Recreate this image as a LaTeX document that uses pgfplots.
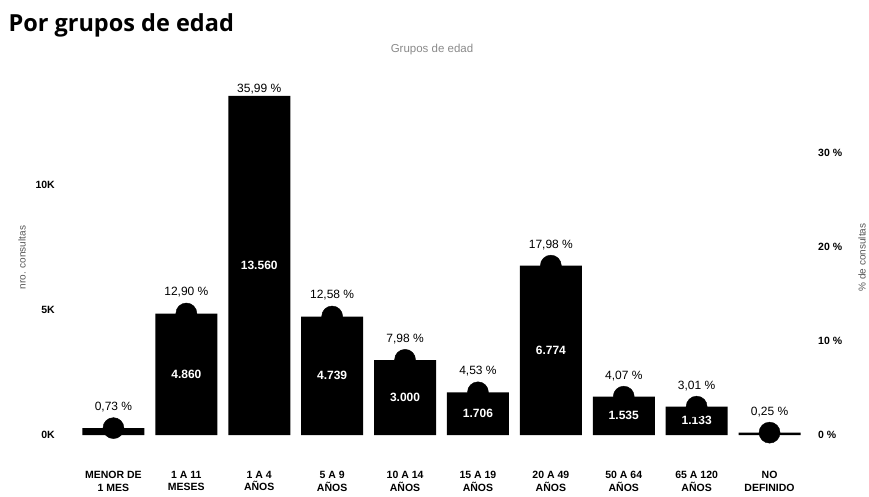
\documentclass[border=0pt]{standalone}
\usepackage{pgfplots}
\pgfplotsset{compat=1.18}
\usepackage{pgfplotstable}
\usepackage{fontspec}
\setmainfont{Liberation Sans}
\newfontfamily\headfont{Open Sans}
\pgfkeys{/pgf/number format/assume math mode=true}

% consultations per age group (x = category index)
\pgfplotstableread{
x  n
0  275
1  4860
2  13560
3  4739
4  3000
5  1706
6  6774
7  1535
8  1133
9  94
}\counts

% groups whose count is printed inside the bar
\pgfplotstableread{
x  n
1  4860
2  13560
3  4739
4  3000
5  1706
6  6774
7  1535
8  1133
}\countlabels

% share of consultations (%) drawn as markers, with the lift of each label in pt
\pgfplotstableread{
x  p      lift
0  0.73   21
1  12.90  21
3  12.58  21
4  7.98   21
5  4.53   21
6  17.98  21
7  4.07   21
8  3.01   21
9  0.25   21
}\shares

% the largest share: its marker is hidden at the top of the plot, only its label shows
\pgfplotstableread{
x  p      lift
2  35.99  7
}\topshare

\definecolor{axislabel}{HTML}{555555}
\definecolor{charttitle}{HTML}{8A8A8A}

\begin{document}
\begin{tikzpicture}
\useasboundingbox (0,0) rectangle (869pt,496pt);

\node[anchor=base west, font=\headfont\bfseries\fontsize{23.5}{26}\selectfont]
  at (5pt,464pt) {Por grupos de edad};
\node[font=\fontsize{11.5}{13}\selectfont, text=charttitle] at (432pt,446pt) {Grupos de edad};

\pgfplotsset{
  frame/.style={
    at={(77pt,61pt)}, anchor=south west,
    scale only axis, width=729pt, height=355pt,
    xmin=-0.5, xmax=9.5, ymin=0,
    axis line style={draw=none},
    major tick length=0pt,
    scaled y ticks=false,
    clip=false,
  },
  sharelabel/.style={
    point meta=y,
    visualization depends on={\thisrow{lift} \as \lift},
    nodes near coords={\pgfmathprintnumber[fixed, fixed zerofill, precision=2, use comma]{\pgfplotspointmeta} \%},
    every node near coord/.append style={anchor=center, yshift=\lift*1pt,
      font=\fontsize{12}{14}\selectfont, text=black},
  },
}

\begin{axis}[
  frame, ymax=14200,
  xtick={0,...,9},
  xticklabels={{MENOR DE\\1 MES},{1 A 11\\MESES},{1 A 4\\AÑOS},{5 A 9\\AÑOS},
    {10 A 14\\AÑOS},{15 A 19\\AÑOS},{20 A 49\\AÑOS},{50 A 64\\AÑOS},
    {65 A 120\\AÑOS},{NO\\DEFINIDO}},
  xticklabel style={align=center, font=\fontsize{10.5}{12.5}\selectfont\bfseries,
    inner sep=0pt, anchor=north, yshift=-36pt},
  ytick={0,5000,10000},
  yticklabels={0K,5K,10K},
  yticklabel style={font=\fontsize{10.5}{12}\selectfont\bfseries,
    inner sep=0pt, anchor=east, xshift=-22pt},
  ylabel={nro. consultas},
  every axis y label/.style={at={(axis description cs:-0.0754,0.5)},
    rotate=90, anchor=center, font=\fontsize{10}{12}\selectfont, text=axislabel},
]
\addplot[ybar, bar width=62pt, bar shift=0pt, fill=black, draw=none]
  table[x=x, y=n] {\counts};
\addplot[ybar, bar width=62pt, bar shift=0pt, fill=none, draw=none,
  point meta=y,
  visualization depends on={y \as \rawy},
  nodes near coords={\pgfmathprintnumber[1000 sep={.}]{\pgfplotspointmeta}},
  every node near coord/.append style={anchor=center, text=white,
    font=\fontsize{12}{14}\selectfont\bfseries,
    shift={(axis direction cs:0,-\rawy/2)}},
] table[x=x, y=n] {\countlabels};
\end{axis}

\begin{axis}[
  frame, ymax=37.69,
  hide x axis,
  axis y line*=right,
  ytick={0,10,20,30},
  yticklabels={0 \%,10 \%,20 \%,30 \%},
  yticklabel style={font=\fontsize{10.5}{12}\selectfont\bfseries,
    inner sep=0pt, anchor=west, xshift=12pt},
  ylabel={\% de consultas},
  every axis y label/.style={at={(axis description cs:1.0768,0.5)},
    rotate=90, anchor=center, font=\fontsize{10}{12}\selectfont, text=axislabel},
]
\addplot[only marks, mark=*, mark size=10.5pt,
  mark options={fill=black, draw=black}, sharelabel]
  table[x=x, y=p] {\shares};
\addplot[only marks, mark=none, sharelabel]
  table[x=x, y=p] {\topshare};
\end{axis}
\end{tikzpicture}
\end{document}
